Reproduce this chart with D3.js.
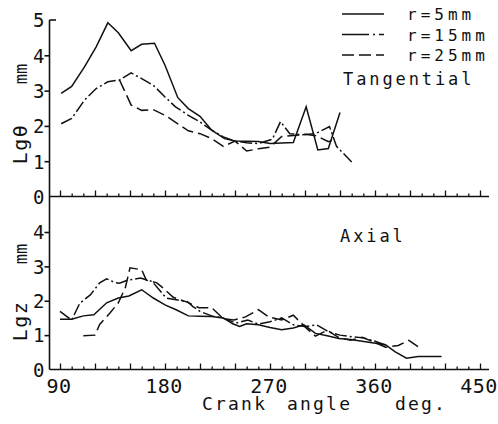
<!DOCTYPE html>
<html>
<head>
<meta charset="utf-8">
<script src="https://cdn.jsdelivr.net/npm/d3@7"></script>
<style>
  body { margin: 0; background: #fff; }
  svg text { font-family: "DejaVu Sans Mono", monospace; fill: #111; }
</style>
</head>
<body>
<div id="chart"></div>
<script>
// angle in deg, value in mm
var tanR5 = [[91,2.92],[100,3.12],[111,3.67],[121,4.24],[131,4.92],[140,4.64],[151,4.13],[160,4.31],[171,4.34],[180,3.72],[191,2.80],[200,2.49],[210,2.27],[220,1.88],[231,1.64],[240,1.57],[260,1.56],[270,1.50],[290,1.53],[301,2.54],[311,1.32],[320,1.36],[330,2.38]]
var tanR15 = [[91,2.06],[100,2.21],[111,2.73],[121,3.06],[131,3.25],[141,3.30],[151,3.50],[160,3.34],[170,3.15],[180,2.82],[189,2.54],[200,2.30],[210,2.11],[220,1.88],[230,1.69],[240,1.57],[250,1.52],[260,1.50],[272,1.62],[279,2.12],[287,1.78],[297,1.75],[309,1.78],[321,1.98],[327,1.42],[340,0.98]]
var tanR25 = [[141,3.30],[151,2.59],[160,2.44],[170,2.46],[180,2.30],[191,2.06],[200,1.86],[210,1.78],[220,1.64],[230,1.42],[240,1.57],[250,1.29],[260,1.35],[270,1.40],[280,1.70],[290,1.73],[300,1.76],[310,1.72],[320,1.55],[326,1.62]]

var axR5 = [[90,1.46],[100,1.46],[110,1.56],[119,1.59],[130,1.94],[140,2.08],[149,2.14],[160,2.32],[170,2.08],[180,1.88],[190,1.73],[200,1.56],[210,1.55],[220,1.54],[230,1.50],[238,1.33],[244,1.25],[250,1.33],[260,1.30],[270,1.22],[280,1.16],[290,1.21],[299,1.30],[309,1.05],[319,0.98],[329,0.90],[339,0.87],[349,0.82],[359,0.77],[369,0.72],[377,0.52],[387,0.33],[397,0.38],[417,0.38]]
var axR15 = [[90,1.69],[100,1.44],[107,1.93],[116,2.17],[124,2.52],[130,2.64],[137,2.53],[141,2.51],[148,2.60],[159,2.66],[169,2.56],[181,2.08],[191,2.02],[199,1.98],[204,1.83],[210,1.69],[220,1.56],[230,1.49],[241,1.35],[251,1.44],[260,1.32],[270,1.39],[280,1.50],[290,1.30],[300,1.25],[310,1.30],[320,1.10],[330,1.00],[340,0.95],[350,0.92],[360,0.82],[370,0.70]]
var axR25 = [[110,0.98],[120,1.00],[124,1.31],[133,1.65],[140,1.94],[146,2.38],[150,2.96],[160,2.90],[164,2.60],[173,2.52],[178,2.38],[187,2.10],[199,1.96],[209,1.80],[220,1.80],[230,1.48],[239,1.44],[249,1.53],[260,1.74],[269,1.53],[280,1.44],[290,1.58],[300,1.24],[309,0.97],[319,1.14],[329,0.93],[339,0.85],[349,0.94],[359,0.80],[369,0.65],[380,0.70],[389,0.85],[397,0.66]]

var xLabels = [90, 180, 270, 360, 450]
var topTicks = [0, 1, 2, 3, 4, 5]
var botTicks = [0, 1, 2, 3, 4]
var legendNames = ["r=5mm", "r=15mm", "r=25mm"]
var dashes = [null, "12,3,2,3", "12,5"]

var svg = d3.select('#chart').append('svg')
  .attr('width', 498)
  .attr('height', 424)

var x = d3.scaleLinear().domain([90, 450]).range([60, 480])
var yTop = d3.scaleLinear().domain([0, 5]).range([196.5, 20])
var yBot = d3.scaleLinear().domain([0, 4]).range([369.5, 232])

var ink = "#111"

// y axis line runs through both panels
svg.append("line")
  .attr("x1", 49.5).attr("x2", 49.5)
  .attr("y1", yTop(5)).attr("y2", yBot(0))
  .attr("stroke", ink).attr("stroke-width", 1.6)
svg.append("line")
  .attr("x1", 49.5).attr("x2", 56)
  .attr("y1", yTop(5)).attr("y2", yTop(5))
  .attr("stroke", ink).attr("stroke-width", 1.6)

function panel(y, ticks, series, name, titleY, unitY) {
  // baseline with upward ticks, every 10 deg, longer every 30
  var base = y(0)
  svg.append("line")
    .attr("x1", 49.5).attr("x2", 489)
    .attr("y1", base).attr("y2", base)
    .attr("stroke", ink).attr("stroke-width", 1.6)

  svg.append("g")
    .attr("transform", `translate(0,${base})`)
    .call(d3.axisTop(x).tickValues(d3.range(90, 451, 10)).tickSize(3).tickFormat(""))
    .call(g => g.select(".domain").remove())
    .call(g => g.selectAll(".tick line").attr("stroke", ink).attr("stroke-width", 1.3)
      .attr("y2", d => (d - 90) % 30 == 0 ? -6 : -3))

  svg.append("g")
    .attr("transform", "translate(49.5,0)")
    .call(d3.axisLeft(y).tickValues(ticks.filter(d => d > 0 && d < 5)).tickSize(5).tickFormat(""))
    .call(g => g.select(".domain").remove())
    .call(g => g.selectAll(".tick line").attr("stroke", ink).attr("stroke-width", 1.6))

  svg.append("g")
    .attr("transform", "translate(49.5,0)")
    .call(d3.axisLeft(y).tickValues(ticks).tickSize(0).tickPadding(5).tickFormat(d3.format("d")))
    .call(g => g.select(".domain").remove())
    .call(g => g.selectAll("text").attr("font-size", 19).attr("dy", "0.36em"))

  var line = d3.line()
    .x(d => x(d[0]))
    .y(d => y(d[1]))

  series.forEach(function(s, i) {
    svg.append("path")
      .attr("d", line(s))
      .attr("fill", "none")
      .attr("stroke", ink)
      .attr("stroke-width", 1.5)
      .attr("stroke-dasharray", dashes[i])
  })

  // rotated y title
  svg.append("text")
    .attr("transform", `translate(27,${titleY}) rotate(-90)`)
    .attr("text-anchor", "middle")
    .attr("font-size", 20)
    .attr("letter-spacing", 1.5)
    .text(name)
  svg.append("text")
    .attr("transform", `translate(27,${unitY}) rotate(-90)`)
    .attr("text-anchor", "middle")
    .attr("font-size", 17)
    .text("mm")
}

panel(yTop, topTicks, [tanR5, tanR15, tanR25], "Lgθ", 144, 74)
panel(yBot, botTicks, [axR5, axR15, axR25], "Lgz", 321, 254)

// x labels under bottom panel
svg.append("g")
  .attr("transform", `translate(-1.5,${yBot(0)})`)
  .call(d3.axisBottom(x).tickValues(xLabels).tickSize(0).tickPadding(9))
  .call(g => g.select(".domain").remove())
  .call(g => g.selectAll("text").attr("font-size", 20).attr("letter-spacing", 0.5))

var title = [["Crank", 202], ["angle", 287], ["deg.", 395]]
title.forEach(function(t) {
  svg.append("text")
    .attr("x", t[1]).attr("y", 410)
    .attr("font-size", 18)
    .attr("letter-spacing", 2.2)
    .text(t[0])
})

// legend
legendNames.forEach(function(n, i) {
  var ly = 14 + i * 20.5
  svg.append("line")
    .attr("x1", 342).attr("x2", 384)
    .attr("y1", ly).attr("y2", ly)
    .attr("stroke", ink).attr("stroke-width", 1.5)
    .attr("stroke-dasharray", i == 1 ? "27,4,2,4" : dashes[i])
  svg.append("text")
    .attr("x", 407).attr("y", ly + 6)
    .attr("font-size", 16)
    .attr("letter-spacing", 4)
    .text(n)
})

svg.append("text")
  .attr("x", 343).attr("y", 85)
  .attr("font-size", 17)
  .attr("letter-spacing", 2.9)
  .text("Tangential")

svg.append("text")
  .attr("x", 340).attr("y", 241.5)
  .attr("font-size", 17)
  .attr("letter-spacing", 2.9)
  .text("Axial")
</script>
</body>
</html>
